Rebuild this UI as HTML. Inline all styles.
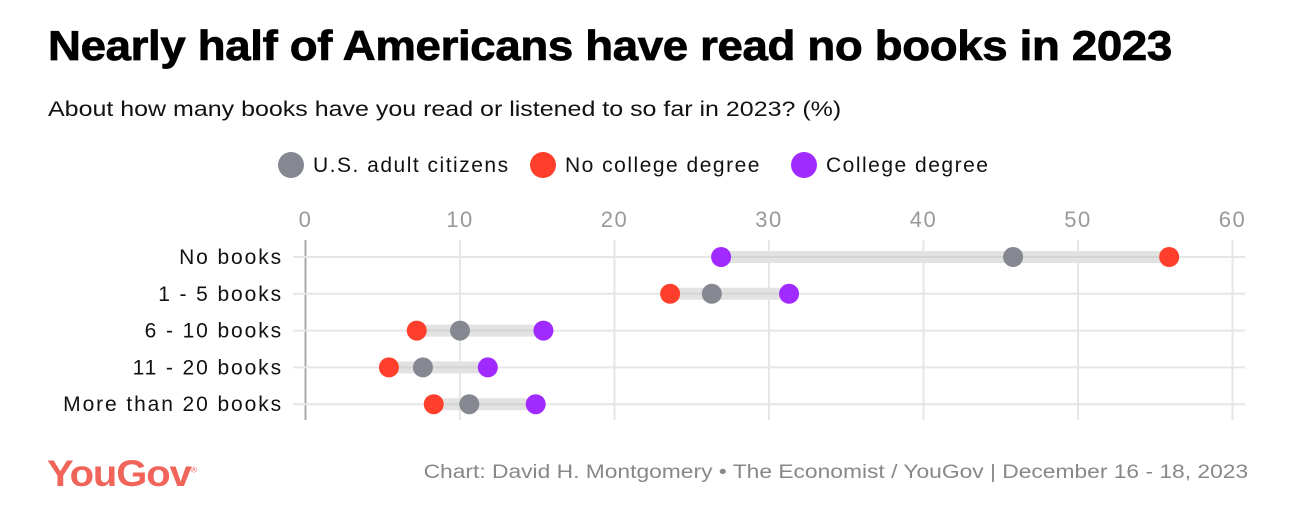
<!DOCTYPE html>
<html><head><meta charset="utf-8"><style>
body{margin:0;width:1300px;height:532px;background:#fff;font-family:"Liberation Sans",sans-serif;overflow:hidden;position:relative}
.t{position:absolute;white-space:nowrap}
</style></head><body>
<div class="t" style="left:48px;top:22px;font-size:42px;font-weight:bold;color:#000;letter-spacing:-0.3px;transform:scaleX(1.085);transform-origin:left top;-webkit-text-stroke:0.8px #000">Nearly half of Americans have read no books in 2023</div>
<div class="t" style="left:48px;top:98px;font-size:21px;color:#111;transform:scaleX(1.19);transform-origin:left top">About how many books have you read or listened to so far in 2023? (%)</div>
<svg id="c" width="1300" height="532" style="position:absolute;left:0;top:0"></svg>
<div class="t" style="left:47px;top:453px;font-size:37px;font-weight:bold;color:#f0645a;letter-spacing:-1px;transform:scaleX(1.08);transform-origin:left top">YouGov<sup style="font-size:8px;font-weight:normal">®</sup></div>
<div class="t" style="right:52px;top:462px;font-size:19px;color:#888;transform:scaleX(1.2);transform-origin:right top">Chart: David H. Montgomery • The Economist / YouGov | December 16 - 18, 2023</div>
<script>
const categories=["No books","1 - 5 books","6 - 10 books","11 - 20 books","More than 20 books"];
const usAdults=[45.8,26.3,10.0,7.6,10.6];
const noCollege=[55.9,23.6,7.2,5.4,8.3];
const college=[26.9,31.3,15.4,11.8,14.9];
const ticks=[0,10,20,30,40,50,60];
const seriesNames=["U.S. adult citizens","No college degree","College degree"];
const colors=["#858791","#ff3f2b","#a02aff"];
const NS="http://www.w3.org/2000/svg";
const svg=document.getElementById("c");
const x=v=>305.5+v*15.45;
const y=i=>257+i*36.8;
function el(t,a){const e=document.createElementNS(NS,t);for(const k in a)e.setAttribute(k,a[k]);svg.appendChild(e);return e;}
ticks.forEach(t=>{
 const l=el("line",{x1:x(t),x2:x(t),y1:240,y2:420,stroke:t===0?"#aaa":"#e6e6e6","stroke-width":2});
 
 
 const tx=el("text",{x:x(t),y:227,"text-anchor":"middle","font-size":22,fill:"#999","letter-spacing":"1.5"});
 tx.textContent=t;
 
 
});
const all=[usAdults,noCollege,college];
categories.forEach((c,i)=>{
 const g=el("line",{x1:293,x2:1245,y1:y(i),y2:y(i),stroke:"#e6e6e6","stroke-width":2});
 
 
 const tx=el("text",{x:283,y:y(i)+7,"text-anchor":"end","font-size":21,fill:"#111","letter-spacing":"1.9"});
 tx.textContent=c;
 
 
 const vals=all.map(a=>a[i]);
 const mn=Math.min(...vals),mx=Math.max(...vals);
 const b=el("line",{x1:x(mn),x2:x(mx),y1:y(i),y2:y(i),stroke:"#e2e2e2","stroke-width":12});
 
 
 const b2=el("line",{x1:x(mn),x2:x(mx),y1:y(i),y2:y(i),stroke:"#d4d4d4","stroke-width":2});
 
 
 [1,2,0].forEach(s=>{
  const d=el("circle",{cx:x(all[s][i]),cy:y(i),r:10,fill:colors[s]});
  
  
 });
});
const lx=[291,543,804];
seriesNames.forEach((n,s)=>{
 const d=el("circle",{cx:lx[s],cy:165,r:13,fill:colors[s]});
 
 
 const tx=el("text",{x:lx[s]+22,y:172,"font-size":21,fill:"#111","letter-spacing":"1.5"});
 tx.textContent=n;
 
 
});
</script>
</body></html>
